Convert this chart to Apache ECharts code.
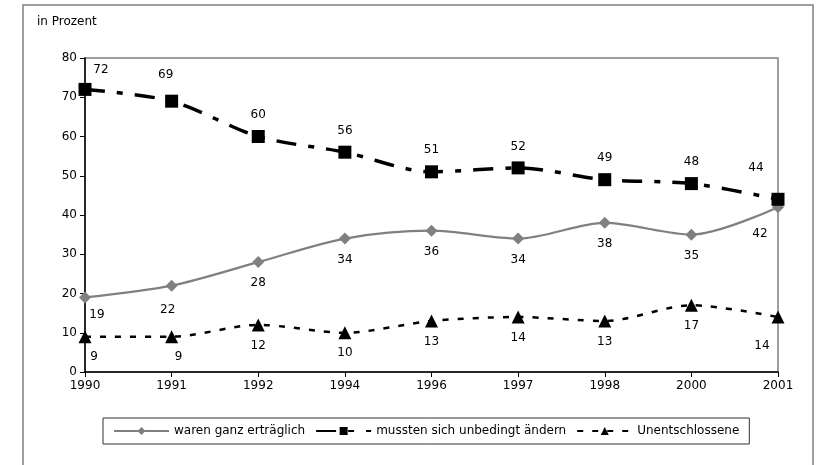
<!DOCTYPE html>
<html>
<head>
<meta charset="utf-8">
<script src="https://cdn.jsdelivr.net/npm/echarts@6/dist/echarts.min.js"></script>
<style>
  html, body { margin: 0; padding: 0; background: #fff; }
  #chart { width: 820px; height: 465px; }
</style>
</head>
<body>
<div id="chart"></div>
<script>
// Jahre (Kategorien) und Werte in Prozent
const jahre = ['1990', '1991', '1992', '1994', '1996', '1997', '1998', '2000', '2001'];
const ertraeglich = [19, 22, 28, 34, 36, 34, 38, 35, 42];
const aendern = [72, 69, 60, 56, 51, 52, 49, 48, 44];
const unentschlossen = [9, 9, 12, 10, 13, 14, 13, 17, 14];

const FONT = 'DejaVu Sans';

// label tweaks for single points (first / last)
function withLabels(values, pos, offsets) {
    return values.map((v, i) => {
        let o = offsets[i];
        if (!o) return v;
        return { value: v, label: { position: pos, offset: o } };
    });
}

let chart = echarts.init(document.getElementById('chart')),
    option;

option = {
    animation: false,
    textStyle: { fontFamily: FONT },
    graphic: [
        {
            type: 'rect',
            shape: { x: 23, y: 5, width: 790, height: 480 },
            style: { fill: 'none', stroke: '#808080', lineWidth: 1.5 }
        },
        {
            type: 'text',
            left: 37, top: 16,
            style: { text: 'in Prozent', fontFamily: FONT, fontSize: 12, fill: '#000' }
        }
    ],
    grid: {
        left: 85, right: 42, top: 58, bottom: 93,
        show: true, borderColor: '#808080', borderWidth: 1.5, backgroundColor: '#fff'
    },
    legend: {
        top: 418,
        left: 103,
        itemGap: 10,
        itemWidth: 55,
        itemHeight: 10,
        padding: [7, 10, 7, 10],
        borderColor: '#333',
        borderWidth: 1,
        textStyle: { fontFamily: FONT, fontSize: 12, color: '#000' },
        data: ['waren ganz erträglich', 'mussten sich unbedingt ändern', 'Unentschlossene']
    },
    xAxis: {
        type: 'category',
        data: jahre,
        boundaryGap: false,
        axisLine: { lineStyle: { color: '#000', width: 1.5 } },
        axisTick: { show: true, length: 5, lineStyle: { color: '#000' } },
        axisLabel: { fontFamily: FONT, fontSize: 12, color: '#000', margin: 8 },
        splitLine: { show: false }
    },
    yAxis: {
        type: 'value',
        min: 0, max: 80, interval: 10,
        axisLine: { show: true, lineStyle: { color: '#000', width: 1.5 } },
        axisTick: { show: true, length: 5, lineStyle: { color: '#000' } },
        axisLabel: { fontFamily: FONT, fontSize: 12, color: '#000', margin: 8 },
        splitLine: { show: false }
    },
    series: [
        {
            name: 'waren ganz erträglich',
            type: 'line',
            smooth: 0.3,
            symbol: 'diamond',
            symbolSize: 12,
            z: 3,
            itemStyle: { color: '#808080' },
            lineStyle: { color: '#808080', width: 2.2 },
            label: {
                show: true, position: 'bottom', distance: 9,
                fontFamily: FONT, fontSize: 12, color: '#000'
            },
            data: withLabels(ertraeglich, 'bottom', { 0: [12, -4], 1: [-4, 3], 8: [-18, 6] })
        },
        {
            name: 'mussten sich unbedingt ändern',
            type: 'line',
            smooth: 0.3,
            symbol: 'rect',
            symbolSize: 13,
            z: 4,
            itemStyle: { color: '#000' },
            lineStyle: { color: '#000', width: 3.5, type: [20, 12, 6, 12] },
            label: {
                show: true, position: 'top', distance: 9,
                fontFamily: FONT, fontSize: 12, color: '#000'
            },
            data: withLabels(aendern, 'top', { 0: [16, 2], 1: [-6, -5], 8: [-22, -10] })
        },
        {
            name: 'Unentschlossene',
            type: 'line',
            smooth: 0.3,
            symbol: 'triangle',
            symbolSize: 13,
            z: 5,
            itemStyle: { color: '#000' },
            lineStyle: { color: '#000', width: 2.5, type: [6, 9] },
            label: {
                show: true, position: 'bottom', distance: 8,
                fontFamily: FONT, fontSize: 12, color: '#000'
            },
            data: withLabels(unentschlossen, 'bottom', { 0: [9, 0], 1: [7, 0], 8: [-16, 8] })
        }
    ]
};

option && chart.setOption(option);
</script>
</body>
</html>
